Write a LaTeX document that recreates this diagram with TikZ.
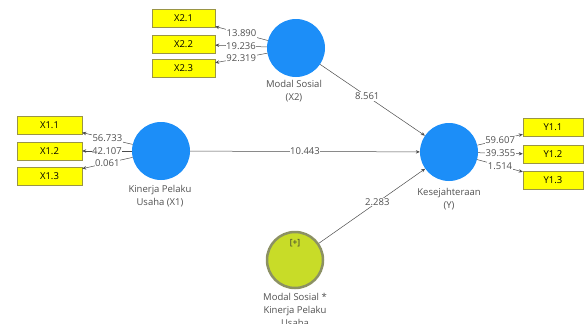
\documentclass[tikz,border=0pt]{standalone}
\usepackage{fontspec}
\setmainfont{Open Sans}
\usetikzlibrary{arrows.meta}
\definecolor{lvblue}{RGB}{28,142,248}
\definecolor{indyellow}{RGB}{255,255,0}
\definecolor{modgreen}{RGB}{200,220,40}
\definecolor{modring}{RGB}{140,145,100}
\definecolor{txtgray}{RGB}{80,80,80}
\tikzset{
  latent/.style={circle, fill=lvblue, minimum size=58pt, inner sep=0pt},
  modlatent/.style={circle, fill=modgreen, draw=modring, line width=2.5pt, minimum size=56pt, inner sep=0pt},
  indicator/.style={rectangle, fill=indyellow, draw=black!45!yellow, line width=0.4pt, minimum width=63pt, minimum height=18pt, inner sep=0pt, font=\fontsize{9.5}{11}\selectfont},
  lvname/.style={align=center, text=txtgray, font=\fontsize{9.5}{13}\selectfont},
  loading/.style={draw=black!70, line width=0.5pt, -{Stealth[length=4pt,width=3.5pt]}},
  coef/.style={fill=white, inner sep=0.6pt, text=txtgray, font=\fontsize{9.5}{11}\selectfont}
}
\begin{document}
\begin{tikzpicture}[x=1pt,y=-1pt]
  \useasboundingbox (0,0) rectangle (584,324);
  % latent variables
  \node[latent] (X2) at (296,48) {};
  \node[latent] (X1) at (161,151) {};
  \node[latent] (Y) at (449,152) {};
  \node[modlatent] (XM) at (295,260) {};
  \node[font=\fontsize{8.5}{10}\selectfont, text=black!80] at (295,243) {[+]};
  \node[lvname, anchor=north] at (294,77) {Modal Sosial\\(X2)};
  \node[lvname, anchor=north] at (160,182) {Kinerja Pelaku\\Usaha (X1)};
  \node[lvname, anchor=north] at (449,185) {Kesejahteraan\\(Y)};
  \node[lvname, anchor=north] at (295,290) {Modal Sosial *\\Kinerja Pelaku\\Usaha};
  % indicators
  \node[indicator] (x21) at (183.5,18) {X2.1};
  \node[indicator] (x22) at (183.5,44) {X2.2};
  \node[indicator] (x23) at (183.5,68.5) {X2.3};
  \node[indicator, minimum width=65pt] (x11) at (49.5,125) {X1.1};
  \node[indicator, minimum width=65pt] (x12) at (49.5,151) {X1.2};
  \node[indicator, minimum width=65pt] (x13) at (49.5,176) {X1.3};
  \node[indicator, minimum width=60pt] (y11) at (553,127) {Y1.1};
  \node[indicator, minimum width=60pt] (y12) at (553,154.5) {Y1.2};
  \node[indicator, minimum width=60pt] (y13) at (553,180) {Y1.3};
  % outer loadings
  \draw[loading] (X2) -- (x21) node[coef, midway] {13.890};
  \draw[loading] (X2) -- (x22) node[coef, midway] {19.236};
  \draw[loading] (X2) -- (x23) node[coef, midway] {92.319};
  \draw[loading] (X1) -- (x11) node[coef, midway] {56.733};
  \draw[loading] (X1) -- (x12) node[coef, midway] {42.107};
  \draw[loading] (X1) -- (x13) node[coef, midway] {0.061};
  \draw[loading] (Y) -- (y11) node[coef, midway] {59.607};
  \draw[loading] (Y) -- (y12) node[coef, midway] {39.355};
  \draw[loading] (Y) -- (y13) node[coef, midway] {1.514};
  % path coefficients
  \draw[loading] (X2) -- (Y) node[coef, pos=0.45] {8.561};
  \draw[loading] (X1) -- (Y) node[coef, midway] {10.443};
  \draw[loading] (XM) -- (Y) node[coef, pos=0.55] {2.283};
\end{tikzpicture}
\end{document}
